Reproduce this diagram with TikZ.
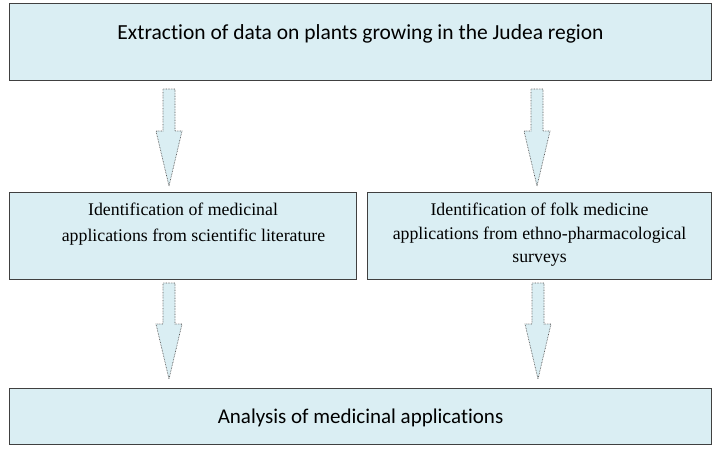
\documentclass[tikz,border=0pt]{standalone}
\usepackage{fontspec}
\setmainfont{Liberation Serif}
\newfontfamily\carlito[Ligatures=NoCommon]{Carlito}
\usetikzlibrary{positioning}
\usetikzlibrary{calc}
\definecolor{boxfill}{HTML}{DAEEF3}
\definecolor{boxline}{HTML}{404040}
\tikzset{
	stage/.style={draw=boxline, line width=1.1pt, fill=boxfill, rectangle, inner sep=0pt, anchor=north west},
	% dotted block arrows between the stages
	flowarrow/.style={draw=black!65, fill=boxfill, line width=0.7pt, dash pattern=on 0.7pt off 0.9pt},
}
% block arrow from #1 (top of shaft) down to #2 (tip)
\newcommand{\blockarrow}[2]{%
	\path[flowarrow] let \p1=(#1), \p2=(#2) in
		(\x1-6pt,\y1) -- (\x1+6pt,\y1) -- (\x1+6pt,\y2+55pt) -- (\x1+13pt,\y2+55pt)
		-- (\x2,\y2) -- (\x1-13pt,\y2+55pt) -- (\x1-6pt,\y2+55pt) -- cycle;}
\newcommand{\stagetext}[4]{\parbox[c][#1][t]{#2}{\centering\rule{0pt}{#3}#4}}

\begin{document}
\begin{tikzpicture}[x=1pt, y=-1pt]
	\useasboundingbox (0,0) rectangle (720,455);
	
	\node (ext) [stage] at (9,3) {\stagetext{77pt}{702pt}{36pt}{\carlito\fontsize{21.5}{25}\selectfont Extraction of data on plants growing in the Judea region}};
	\node (lit) [stage] at (9,192) {\stagetext{87pt}{347pt}{23pt}{\fontsize{17.8}{25.5}\selectfont Identification of medicinal\\ \hspace*{21pt}applications from scientific literature}};
	\node (folk) [stage] at (367,192) {\stagetext{87pt}{344pt}{23pt}{\fontsize{17.8}{23.5}\selectfont Identification of folk medicine\\ applications from ethno-pharmacological\\ surveys}};
	\node (ana) [stage] at (9,388) {\stagetext{56pt}{702pt}{35pt}{\carlito\fontsize{21}{25}\selectfont Analysis of medicinal applications}};
	
	\coordinate (a1s) at (169,89);
	\coordinate (a1e) at (169,186);
	\coordinate (a2s) at (537,89);
	\coordinate (a2e) at (537,186);
	\coordinate (a3s) at (169,283);
	\coordinate (a3e) at (169,379);
	\coordinate (a4s) at (538,283);
	\coordinate (a4e) at (538,379);
	
	\blockarrow{a1s}{a1e}
	\blockarrow{a2s}{a2e}
	\blockarrow{a3s}{a3e}
	\blockarrow{a4s}{a4e}
	
\end{tikzpicture}
\end{document}
